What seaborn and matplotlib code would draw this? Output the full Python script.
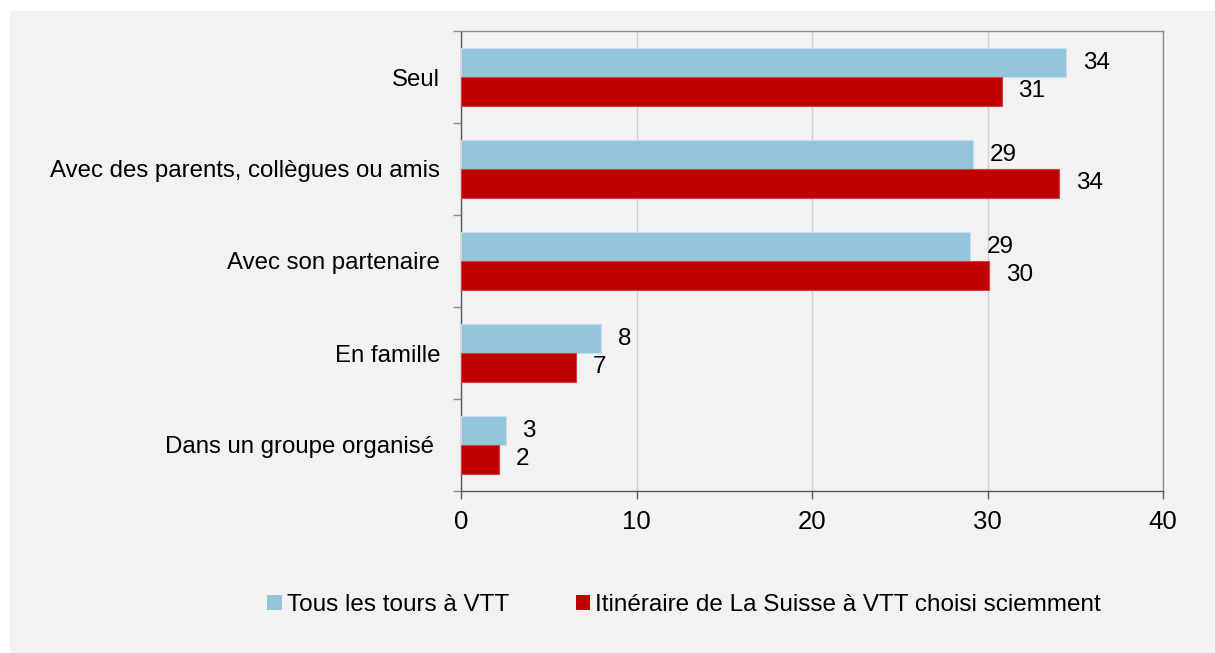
import matplotlib
matplotlib.use('Agg')
import matplotlib.pyplot as plt
import matplotlib.patches as mpatches
import seaborn as sns
import pandas as pd
import numpy as np

categories = ['Seul', 'Avec des parents, collègues ou amis', 'Avec son partenaire',
              'En famille', 'Dans un groupe organisé ']
series = ['Tous les tours à VTT', 'Itinéraire de La Suisse à VTT choisi sciemment']
tous_les_tours = [34.5, 29.2, 29.0, 8.0, 2.55]
itineraire = [30.8, 34.1, 30.1, 6.55, 2.15]
colors = ['#93C4DA', '#C00000']

df = pd.DataFrame({
    'categorie': categories * 2,
    'serie': [series[0]] * len(categories) + [series[1]] * len(categories),
    'valeur': tous_les_tours + itineraire,
})

sns.set_style('white')
plt.rcParams['font.family'] = ['Liberation Sans', 'DejaVu Sans']
plt.rcParams['text.color'] = 'black'
plt.rcParams['xtick.labelcolor'] = 'black'
plt.rcParams['ytick.labelcolor'] = 'black'

fig = plt.figure(figsize=(12.15, 6.53), dpi=100)
fig.patch.set_facecolor('white')
fig.patches.append(mpatches.Rectangle((10 / 1215, 0), 1, 1 - 11 / 653, transform=fig.transFigure,
                                      facecolor='#F2F2F2', edgecolor='none', zorder=-10))
ax = fig.add_axes([461 / 1215, 1 - 491 / 653, (1163 - 461) / 1215, (491 - 31) / 653])
ax.set_facecolor('#F2F2F2')

sns.barplot(data=df, x='valeur', y='categorie', hue='serie', orient='h', width=0.63,
            palette=colors, saturation=1, ax=ax, errorbar=None, legend=False, zorder=3)

for i, cont in enumerate(ax.containers):
    for bar in cont:
        bar.set_edgecolor('#C5DEEA' if i == 0 else '#D44040')
        bar.set_linewidth(0.8)
    ax.bar_label(cont, labels=[f'{v:.0f}' for v in cont.datavalues], padding=12,
                 fontsize=17.5, color='black')

ax.set_xlim(0, 40)
ax.set_xticks([0, 10, 20, 30, 40])
ax.grid(axis='x', color='#D0D0D0', linewidth=1, zorder=0)
ax.set_axisbelow(True)

ax.set_yticks(np.arange(-0.5, len(categories)), minor=True)
ax.tick_params(axis='y', which='major', length=0, pad=15, labelsize=17.3, labelcolor='black')
ax.tick_params(axis='y', which='minor', length=6, width=1, color='#8C8C8C', left=True)
ax.tick_params(axis='x', which='major', length=6, width=1, color='#595959', pad=8,
               labelsize=18.5, labelcolor='black', bottom=True)
ax.set_xlabel('')
ax.set_ylabel('')

for side in ['top', 'right']:
    ax.spines[side].set_color('#8C8C8C')
    ax.spines[side].set_linewidth(1)
for side in ['left', 'bottom']:
    ax.spines[side].set_color('#595959')
    ax.spines[side].set_linewidth(1)

handles = [mpatches.Patch(facecolor=c, edgecolor='none') for c in colors]
fig.legend(handles, series, loc='center', bbox_to_anchor=(0.563, 1 - 605 / 653), ncol=2,
           frameon=False, handlelength=0.6, handleheight=0.6, handletextpad=0.2,
           columnspacing=2.75, prop={'size': 17.5}, labelcolor='black')

fig.savefig('out.png', dpi=100, facecolor=fig.get_facecolor())
